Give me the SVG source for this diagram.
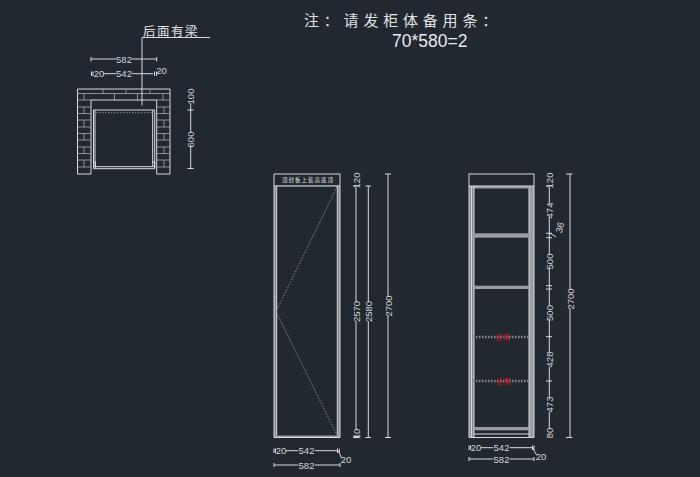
<svg xmlns="http://www.w3.org/2000/svg" width="700" height="477" viewBox="0 0 700 477">
<style>
.l{fill:none;stroke:#d8dade;stroke-width:1}
.t{fill:none;stroke:#a9acb1;stroke-width:.8}
.p{fill:#85888c;stroke:none}
.f{fill:#9a9c9f;stroke:none}
.d{fill:none;stroke:#8b8e92;stroke-width:1;stroke-dasharray:1.5 1.5}
.x{font-family:"Liberation Sans",sans-serif;font-size:9.5px;fill:#d4d6da;text-anchor:middle}
.c{font-family:"Liberation Serif","Noto Sans CJK SC",serif;fill:#e0e2e6}
.r{font-family:"Noto Sans CJK SC",sans-serif;font-size:6.500px;fill:#d8121f;text-anchor:middle;letter-spacing:1.500px}
</style>
<rect width="700" height="477" fill="#212830"/>
<g id="note">
<text class="c" x="304" y="26" font-size="15" letter-spacing="4.800">注：请发柜体备用条：</text>
<text x="392" y="47" font-family="Liberation Sans,sans-serif" font-size="17.500" fill="#e6e8ea">70*580=2</text>
</g>
<g id="plan-view">
<path class="l" d="M77.500 174V89H170V174H156.700V100H91V174Z"/>
<path class="t" d="M77.500 93.500H170M78 100H91M78 107H91M78 113.500H91M78 120H91M78 127H91M78 133.500H91M78 140H91M78 147H91M78 153.500H91M78 160H91M78 167H91M157 100H170M157 107H170M157 113.500H170M157 120H170M157 127H170M157 133.500H170M157 140H170M157 147H170M157 153.500H170M157 160H170M157 167H170M103 89V93.500M126 89V93.500M150 89V93.500M84 93.500V100M114.500 93.500V100M137.500 93.500V100M163 93.500V100M84 107V113.500M84 120V127M84 133.500V140M84 147V153.500M84 160V167M164 107V113.500M164 120V127M164 133.500V140M164 147V153.500M164 160V167"/>
<path class="l" d="M93.500 110H154.700V168.700H93.500ZM95 110V166.700M152.700 110V166.700M93.500 166.700H154.700M93.500 162H95.500V168M152.700 162H154.700V168"/>
<path class="d" d="M96 112.700H152"/>
<path class="l" d="M142 105.500V37.500H210"/>
<text class="c" x="143" y="36" font-size="12.500" letter-spacing="1.500">后面有梁</text>
<path class="l" d="M91 59H116M132 59H156.700M91 57V61.500M156.700 57V61.500M103 73.700H116M132 73.700H153M91.500 71.500V76M93 71.500V76M154.500 71.500V76M156.500 71.500V76"/>
<text class="x" x="124" y="62.500">582</text>
<text class="x" x="124" y="77.200">542</text>
<text class="x" x="99" y="77.200">20</text>
<text class="x" x="161.500" y="73.500">20</text>
<path class="l" d="M190.700 103V133M190.700 146V168.500M187.500 110H193.500M187.500 168.500H193.500"/>
<text class="x" transform="translate(194 96.500) rotate(-90)">100</text>
<text class="x" transform="translate(194 139.500) rotate(-90)">600</text>
</g>
<g id="door-view">
<rect class="p" x="274" y="186" width="2.700" height="251"/>
<rect class="p" x="337.300" y="186" width="2.700" height="251"/>
<rect class="f" x="274" y="185" width="66" height="1.800"/>
<rect class="f" x="274" y="435.500" width="66" height="2.500"/>
<path class="l" d="M274 174H340V437.500H274ZM276.700 186V435.500M337.300 186V435.500"/>
<path class="d" d="M337 187L276 311.700L337 435"/>
<text class="c" x="308" y="182" font-size="5.500" text-anchor="middle" letter-spacing="1">顶封板上装高底顶</text>
<path class="l" d="M356 187V302M356 321V430M353 186H359M353 436H359M353 437.500H359M368.300 186V302M368.300 321V437.500M365.500 186H371M365.500 437.500H371M388 174V297M388 315V437.500M385 174H391M385 437.500H391"/>
<text class="x" transform="translate(359.500 180.500) rotate(-90)">120</text>
<text class="x" transform="translate(359.500 311.500) rotate(-90)">2570</text>
<text class="x" transform="translate(371.800 311.500) rotate(-90)">2580</text>
<text class="x" transform="translate(391.500 306) rotate(-90)">2700</text>
<text class="x" transform="translate(359.500 434) rotate(-90)">10</text>
<path class="l" d="M286 450.700H298M315 450.700H337M274 448.500V453M275.500 448.500V453M337.500 448.500V453M339.300 448.500V453M338.500 451L341.500 458M274 465H298M315 465H340M274 463V467M340 463V467"/>
<text class="x" x="306.500" y="454.200">542</text>
<text class="x" x="306.500" y="468.500">582</text>
<text class="x" x="281" y="454.200">20</text>
<text class="x" x="346" y="462.500">20</text>
</g>
<g id="side-view">
<rect class="p" x="469" y="186" width="5" height="251.500"/>
<rect class="f" x="529" y="186" width="5" height="251.500"/>
<rect class="f" x="471" y="186" width="60" height="2.500"/>
<rect class="l" x="469" y="174" width="65" height="12"/>
<path class="l" d="M469 186V437.500H534V186M471.500 186V437.500M474 186V437.500M529 188V437.500M474 434H529"/>
<rect class="f" x="472" y="233.300" width="60" height="4.400"/>
<rect class="f" x="474" y="285.700" width="55" height="3.300"/>
<rect class="f" x="474" y="427" width="55" height="3.300"/>
<path d="M473 337H529M473 381H529" fill="none" stroke="#85888c" stroke-width="2.500" stroke-dasharray="1.500 1.500"/>
<text class="r" x="503" y="339.500">活隔</text>
<text class="r" x="504" y="383.500">活隔</text>
<path class="l" d="M549.300 187V204M549.300 217V255M549.300 268V306M549.300 320V352M549.300 367V397M549.300 412V428M546 186H552M546 233.300H552M546 237.700H552M546 285.700H552M546 289H552M546 336.700H552M546 381H552M550 233L556 237M570 174V290M570 308V437.500M566 174H572.500M566 437.500H572.500"/>
<text class="x" transform="translate(552.800 180.500) rotate(-90)">120</text>
<text class="x" transform="translate(552.800 210.500) rotate(-90)">474</text>
<text class="x" transform="translate(552.800 261.500) rotate(-90)">500</text>
<text class="x" transform="translate(552.800 313) rotate(-90)">500</text>
<text class="x" transform="translate(552.800 359.500) rotate(-90)">428</text>
<text class="x" transform="translate(552.800 404.500) rotate(-90)">473</text>
<text class="x" transform="translate(552.800 433) rotate(-90)">80</text>
<text class="x" transform="translate(563 228.500) rotate(-75)">36</text>
<text class="x" transform="translate(573.500 299) rotate(-90)">2700</text>
<path class="l" d="M481 447.700H493M510 447.700H532M469 445.500V450M470.500 445.500V450M532.500 445.500V450M534 445.500V450M533 448.500L536.500 455M469 459H493M510 459H534M469 457V461M534 457V461"/>
<text class="x" x="501.500" y="451.200">542</text>
<text class="x" x="501.500" y="462.500">582</text>
<text class="x" x="476" y="451.200">20</text>
<text class="x" x="541" y="459.500">20</text>
</g>
</svg>
